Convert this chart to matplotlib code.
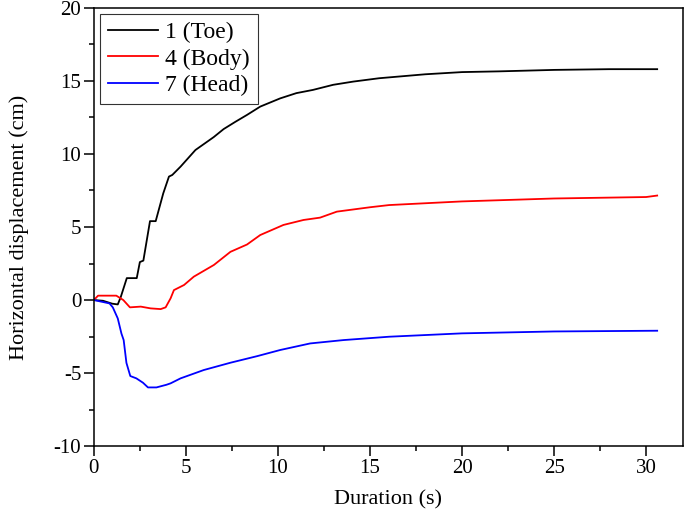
import matplotlib.pyplot as plt
from matplotlib.ticker import MultipleLocator

plt.rcParams['font.family'] = ['Liberation Serif', 'DejaVu Serif']
plt.rcParams['axes.unicode_minus'] = False

toe_t = [0, 0.5, 1.0, 1.3, 1.46, 1.79, 2.33, 2.5, 2.69, 3.05, 3.36, 3.77, 4.08, 4.26, 4.71,
         5.52, 6.06, 6.51, 7.05, 7.69, 8.32, 9.04, 10.12, 11.0, 11.9, 13.0, 14.09, 15.5,
         18.0, 20.0, 22.0, 25.0, 28.0, 30.6]
toe_d = [0, -0.05, -0.25, -0.3, 0.2, 1.5, 1.5, 2.6, 2.7, 5.4, 5.4, 7.3, 8.45, 8.56, 9.13,
         10.27, 10.75, 11.15, 11.7, 12.2, 12.67, 13.24, 13.8, 14.16, 14.38, 14.73, 14.95, 15.18,
         15.45, 15.6, 15.65, 15.75, 15.8, 15.8]

body_t = [0, 0.23, 1.22, 1.6, 1.96, 2.55, 3.08, 3.63, 3.9, 4.17, 4.35, 4.9, 5.43, 6.52,
          7.42, 8.32, 9.04, 10.3, 11.39, 12.29, 13.2, 15.0, 16.04, 20.0, 25.0, 30.0, 30.6]
body_d = [0, 0.3, 0.3, 0.0, -0.5, -0.45, -0.57, -0.62, -0.5, 0.12, 0.68, 1.03, 1.6, 2.4,
          3.3, 3.8, 4.45, 5.14, 5.48, 5.64, 6.05, 6.35, 6.5, 6.75, 6.95, 7.05, 7.15]

head_t = [0, 0.85, 1.03, 1.3, 1.5, 1.62, 1.77, 1.98, 2.31, 2.67, 2.94, 3.4, 3.94, 4.17,
          4.71, 5.97, 7.42, 8.87, 10.12, 11.75, 13.56, 16.04, 20.0, 25.0, 30.6]
head_d = [0, -0.23, -0.5, -1.26, -2.3, -2.74, -4.3, -5.2, -5.36, -5.66, -5.98, -5.98, -5.8,
          -5.7, -5.36, -4.79, -4.29, -3.84, -3.42, -2.97, -2.74, -2.51, -2.28, -2.15, -2.1]

fig = plt.figure(figsize=(6.85, 5.2), dpi=100)
ax = fig.add_axes([0.137, 0.142, 0.860, 0.843])

ax.plot(toe_t, toe_d, color='black', lw=1.3, label='1 (Toe)')
ax.plot(body_t, body_d, color='red', lw=1.3, label='4 (Body)')
ax.plot(head_t, head_d, color='blue', lw=1.3, label='7 (Head)')

ax.set_xlim(0, 32)
ax.set_ylim(-10, 20)
ax.xaxis.set_major_locator(MultipleLocator(5))
ax.xaxis.set_minor_locator(MultipleLocator(2.5))
ax.yaxis.set_major_locator(MultipleLocator(5))
ax.yaxis.set_minor_locator(MultipleLocator(2.5))
ax.tick_params(which='major', direction='out', length=7, width=1.1, labelsize=15, pad=2)
ax.tick_params(which='minor', direction='out', length=3.5, width=1.1)
for s in ax.spines.values():
    s.set_linewidth(1.1)

ax.set_xlabel('Duration (s)', fontsize=16, labelpad=9)
ax.set_ylabel('Horizontal displacement (cm)', fontsize=16, labelpad=18)

leg = ax.legend(loc='upper left', fontsize=17, fancybox=False, edgecolor='black',
                handlelength=2.1, handletextpad=0.3, borderaxespad=0.25,
                borderpad=0.35, labelspacing=0.2)
leg.get_frame().set_linewidth(0.8)

fig.savefig('out.png', dpi=100)
